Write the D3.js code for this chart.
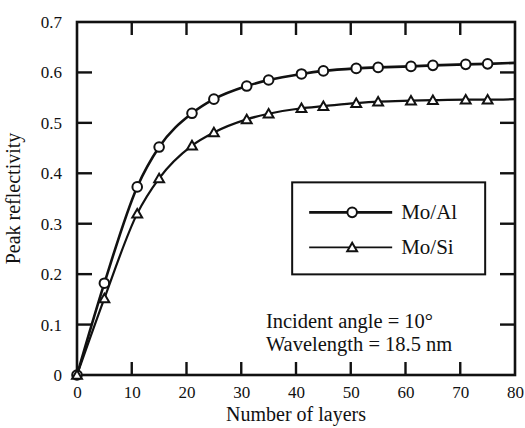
<!DOCTYPE html>
<html>
<head>
<meta charset="utf-8">
<script src="https://cdn.jsdelivr.net/npm/d3@7"></script>
<style>
  body { margin: 0; background: #fff; }
  svg text { font-family: "Liberation Serif", "Times New Roman", serif; }
</style>
</head>
<body>
<div class="chart"></div>
<script>
// Data.
const layers = [0, 5, 11, 15, 21, 25, 31, 35, 41, 45, 51, 55, 61, 65, 71, 75, 80];
const moAl = [0, 0.182, 0.373, 0.452, 0.519, 0.547, 0.573, 0.585, 0.597, 0.603, 0.608, 0.610, 0.612, 0.614, 0.616, 0.617, 0.619];
const moSi = [0, 0.152, 0.320, 0.390, 0.455, 0.481, 0.507, 0.518, 0.529, 0.533, 0.539, 0.542, 0.544, 0.545, 0.546, 0.546, 0.547];
const seriesNames = ['Mo/Al', 'Mo/Si'];
const xTicks = [0, 10, 20, 30, 40, 50, 60, 70, 80];
const yTicks = [0, 0.1, 0.2, 0.3, 0.4, 0.5, 0.6, 0.7];
const notes = ['Incident angle = 10\u00b0', 'Wavelength = 18.5 nm'];

const margin = { top: 22, right: 10, bottom: 53, left: 77 };
const width = 525 - margin.left - margin.right;
const height = 428 - margin.top - margin.bottom;

const x = d3.scaleLinear().domain([0, 80]).range([0, width]);
const y = d3.scaleLinear().domain([0, 0.7]).range([height, 0]);

const svg = d3.select('.chart')
  .append('svg')
  .attr('width', 525)
  .attr('height', 428)
  .append('g')
  .attr('transform', `translate(${margin.left}, ${margin.top})`);

const series = [
  { name: seriesNames[0], values: layers.map((l, i) => ({ x: l, y: moAl[i] })), marker: 'circle', width: 2.6, legendWidth: 2.6 },
  { name: seriesNames[1], values: layers.map((l, i) => ({ x: l, y: moSi[i] })), marker: 'triangle', width: 2.2, legendWidth: 1.6 }
];

// Axes: labels on bottom/left, inward ticks on all four sides.
const inner = xTicks.slice(1, -1);
const innerY = yTicks.slice(1, -1);

svg.append('g')
  .attr('transform', `translate(0, ${height})`)
  .call(d3.axisBottom(x).tickValues(xTicks).tickSize(0).tickPadding(11).tickFormat(d3.format('d')))
  .call(g => g.attr('font-family', null))
  .call(g => g.select('.domain').remove())
  .call(g => g.selectAll('text').style('font-size', '17px').attr('fill', '#111'));

svg.append('g')
  .call(d3.axisLeft(y).tickValues(yTicks).tickSize(0).tickPadding(15).tickFormat(d => d === 0 ? '0' : d3.format('.1f')(d)))
  .call(g => g.attr('font-family', null))
  .call(g => g.select('.domain').remove())
  .call(g => g.selectAll('text').style('font-size', '17px').attr('fill', '#111'));

const tickLen = 13;
const ticks = svg.append('g').attr('stroke', '#111').attr('stroke-width', 2.4);
ticks.selectAll('.tb').data(inner).enter().append('line')
  .attr('x1', d => x(d)).attr('x2', d => x(d)).attr('y1', height).attr('y2', height - tickLen);
ticks.selectAll('.tt').data(inner).enter().append('line')
  .attr('x1', d => x(d)).attr('x2', d => x(d)).attr('y1', 0).attr('y2', tickLen);
ticks.selectAll('.tl').data(innerY).enter().append('line')
  .attr('y1', d => y(d)).attr('y2', d => y(d)).attr('x1', 0).attr('x2', tickLen + 2);
ticks.selectAll('.tr').data(innerY).enter().append('line')
  .attr('y1', d => y(d)).attr('y2', d => y(d)).attr('x1', width).attr('x2', width - tickLen - 2);

svg.append('rect')
  .attr('width', width).attr('height', height)
  .attr('fill', 'none').attr('stroke', '#111').attr('stroke-width', 2.6);

// Axis titles.
svg.append('text')
  .attr('x', width / 2).attr('y', height + 46)
  .attr('text-anchor', 'middle')
  .style('font-size', '20px')
  .attr('fill', '#111')
  .text('Number of layers');

svg.append('text')
  .attr('transform', `translate(${-57}, ${height / 2}) rotate(-90)`)
  .attr('text-anchor', 'middle')
  .style('font-size', '20px')
  .attr('fill', '#111')
  .text('Peak reflectivity');

// Lines and markers.
const lineGen = d3.line()
  .x(d => x(d.x))
  .y(d => y(d.y))
  .curve(d3.curveMonotoneX);

const tri = d3.symbol().type(d3.symbolTriangle).size(42);

function drawMarker(sel, kind) {
  if (kind === 'circle') {
    sel.append('circle').attr('r', 4.8)
      .attr('fill', '#fff').attr('stroke', '#111').attr('stroke-width', 2);
  } else {
    sel.append('path').attr('d', tri).attr('transform', 'translate(0,1)')
      .attr('fill', '#fff').attr('stroke', '#111').attr('stroke-width', 2);
  }
}

series.forEach(s => {
  svg.append('path')
    .attr('d', lineGen(s.values))
    .attr('fill', 'none')
    .attr('stroke', '#111')
    .attr('stroke-width', s.width);

  svg.append('g')
    .selectAll('g')
    .data(s.values.filter(d => d.x < 80))
    .enter()
    .append('g')
    .attr('transform', d => `translate(${x(d.x)}, ${y(d.y)})`)
    .each(function () { drawMarker(d3.select(this), s.marker); });
});

// Legend.
const legend = svg.append('g').attr('transform', `translate(${x(39.3)}, ${y(0.382)})`);
legend.append('rect')
  .attr('width', 193).attr('height', 92)
  .attr('fill', '#fff').attr('stroke', '#111').attr('stroke-width', 2);

series.forEach((s, i) => {
  const row = legend.append('g').attr('transform', `translate(0, ${30 + i * 35})`);
  row.append('line')
    .attr('x1', 17).attr('x2', 100)
    .attr('stroke', '#111').attr('stroke-width', s.legendWidth);
  const m = row.append('g').attr('transform', 'translate(60, 0)');
  drawMarker(m, s.marker);
  row.append('text')
    .attr('x', 109).attr('y', 7)
    .style('font-size', '21px')
    .attr('fill', '#111')
    .text(s.name);
});

// Annotation.
svg.append('g')
  .selectAll('text')
  .data(notes)
  .enter()
  .append('text')
  .attr('x', x(34.5))
  .attr('y', (d, i) => y(0.0925) + i * 22.5)
  .style('font-size', '20.5px')
  .attr('fill', '#111')
  .text(d => d);
</script>
</body>
</html>
